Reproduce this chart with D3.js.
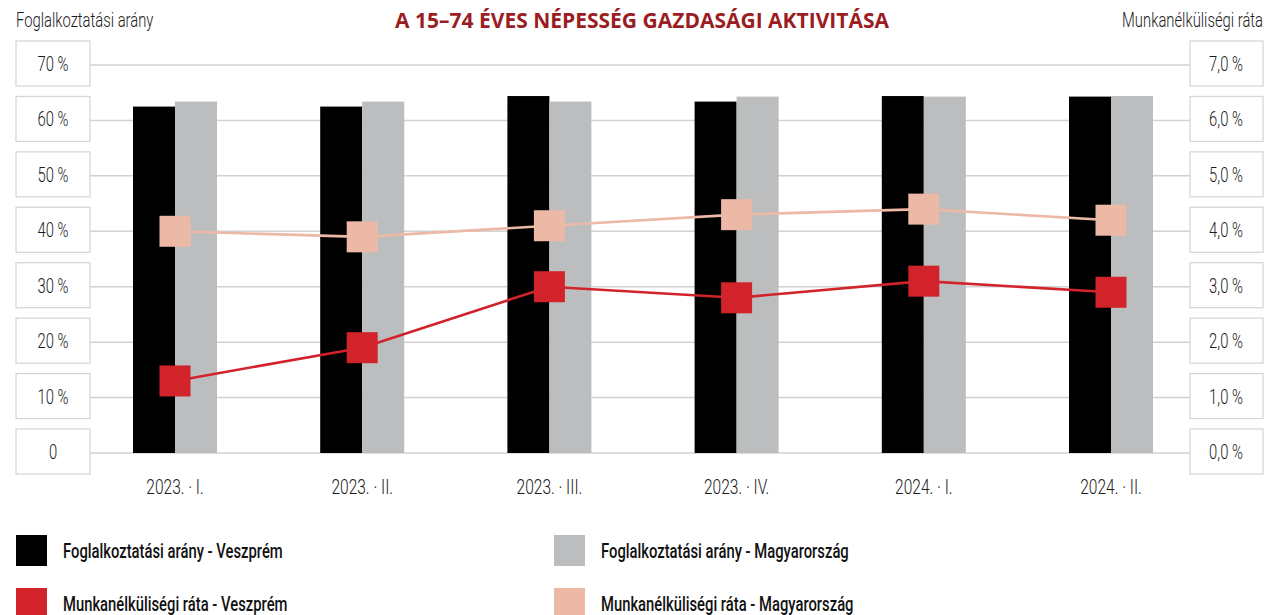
<!DOCTYPE html>
<html>
<head>
<meta charset="utf-8">
<script src="https://cdn.jsdelivr.net/npm/d3@7/dist/d3.min.js"></script>
<style>
    body { margin: 0; background: #fff; }
    .lbl { font-family: Roboto, sans-serif; font-weight: 300; fill: #1a1a1a; }
    .title { font-family: 'Open Sans', sans-serif; font-weight: 700; fill: #9b1d23; }
</style>
</head>
<body>
<script>
//chart data
var quarters = ["2023. · I.", "2023. · II.", "2023. · III.", "2023. · IV.", "2024. · I.", "2024. · II."];
var empVeszprem = [62.5, 62.5, 64.4, 63.4, 64.4, 64.3];
var empHungary = [63.4, 63.4, 63.4, 64.3, 64.3, 64.4];
var unempVeszprem = [1.3, 1.9, 3.0, 2.8, 3.1, 2.9];
var unempHungary = [4.0, 3.9, 4.1, 4.3, 4.4, 4.2];
var leftTicks = [0, 10, 20, 30, 40, 50, 60, 70];
var rightTicks = [0, 1, 2, 3, 4, 5, 6, 7];
var legendItems = [
    {name: "Foglalkoztatási arány - Veszprém", color: "#000000"},
    {name: "Foglalkoztatási arány - Magyarország", color: "#bcbdbf"},
    {name: "Munkanélküliségi ráta - Veszprém", color: "#d2232a"},
    {name: "Munkanélküliségi ráta - Magyarország", color: "#edb9a7"}
];

var squeeze = 0.74; //condensed look for the label font

window.onload = drawChart();

//text squeezed horizontally, positioned at (x, y)
function narrowText(parent, x, y, size, anchor){
    return parent.append("g")
        .attr("transform", function(d){
            var xx = typeof x === "function" ? x(d) : x;
            var yy = typeof y === "function" ? y(d) : y;
            return "translate(" + xx + "," + yy + ") scale(" + squeeze + ",1)";
        })
        .append("text")
        .attr("class", "lbl")
        .attr("text-anchor", anchor || "start")
        .style("font-size", size + "px");
}

function drawChart(){

    var width = 1269,
        height = 615;

    var svg = d3.select("body")
        .append("svg")
        .attr("width", width)
        .attr("height", height);

    //scales: left for employment %, right for unemployment %
    var yLeft = d3.scaleLinear().domain([0, 70]).range([453, 65]);
    var yRight = d3.scaleLinear().domain([0, 7]).range([453, 65]);
    var x = d3.scalePoint().domain(quarters).range([175, 1111]);
    var barW = 42;

    //gridlines
    svg.selectAll(".grid")
        .data(leftTicks)
        .enter()
        .append("line")
        .attr("x1", 90)
        .attr("x2", 1190)
        .attr("y1", function(d){ return yLeft(d); })
        .attr("y2", function(d){ return yLeft(d); })
        .attr("stroke", "#d2d2d2")
        .attr("stroke-width", 1.5);

    //left axis boxes
    var lg = svg.selectAll(".lbox")
        .data(leftTicks)
        .enter()
        .append("g")
        .attr("transform", function(d){ return "translate(16," + (yLeft(d) - 24) + ")"; });
    lg.append("rect")
        .attr("width", 74).attr("height", 45)
        .attr("fill", "#fff").attr("stroke", "#d4d4d4").attr("stroke-width", 1.2);
    narrowText(lg, 37, 30, 20, "middle")
        .text(function(d){ return d === 0 ? "0" : d + " %"; });

    //right axis boxes
    var rg = svg.selectAll(".rbox")
        .data(rightTicks)
        .enter()
        .append("g")
        .attr("transform", function(d){ return "translate(1190," + (yRight(d) - 24) + ")"; });
    rg.append("rect")
        .attr("width", 73).attr("height", 45)
        .attr("fill", "#fff").attr("stroke", "#d4d4d4").attr("stroke-width", 1.2);
    narrowText(rg, 36, 30, 20, "middle")
        .text(function(d){ return d3.format(".1f")(d).replace(".", ",") + " %"; });

    //bars
    svg.selectAll(".barV")
        .data(empVeszprem)
        .enter()
        .append("rect")
        .attr("x", function(d, i){ return x(quarters[i]) - barW; })
        .attr("y", function(d){ return yLeft(d); })
        .attr("width", barW)
        .attr("height", function(d){ return yLeft(0) - yLeft(d); })
        .attr("fill", legendItems[0].color);

    svg.selectAll(".barH")
        .data(empHungary)
        .enter()
        .append("rect")
        .attr("x", function(d, i){ return x(quarters[i]); })
        .attr("y", function(d){ return yLeft(d); })
        .attr("width", barW)
        .attr("height", function(d){ return yLeft(0) - yLeft(d); })
        .attr("fill", legendItems[1].color);

    //lines with square markers
    var line = d3.line()
        .x(function(d, i){ return x(quarters[i]); })
        .y(function(d){ return yRight(d); });

    [[unempHungary, legendItems[3].color], [unempVeszprem, legendItems[2].color]].forEach(function(s){
        svg.append("path")
            .datum(s[0])
            .attr("d", line)
            .attr("fill", "none")
            .attr("stroke", s[1])
            .attr("stroke-width", 2.6);
        svg.selectAll(null)
            .data(s[0])
            .enter()
            .append("rect")
            .attr("x", function(d, i){ return x(quarters[i]) - 15.5; })
            .attr("y", function(d){ return yRight(d) - 15.5; })
            .attr("width", 31)
            .attr("height", 31)
            .attr("fill", s[1]);
    });

    //x labels
    var xg = svg.selectAll(".xl")
        .data(quarters)
        .enter()
        .append("g");
    narrowText(xg, function(d){ return x(d); }, 494, 21, "middle")
        .text(function(d){ return d; });

    //titles
    svg.append("text")
        .attr("class", "title")
        .attr("x", 642).attr("y", 28)
        .attr("text-anchor", "middle")
        .style("font-size", "21px")
        .text("A 15–74 ÉVES NÉPESSÉG GAZDASÁGI AKTIVITÁSA");

    narrowText(svg, 16, 27, 20, "start")
        .text("Foglalkoztatási arány");

    narrowText(svg, 1263, 27, 20, "end")
        .text("Munkanélküliségi ráta");

    //legend
    var leg = svg.selectAll(".leg")
        .data(legendItems)
        .enter()
        .append("g")
        .attr("transform", function(d, i){ return "translate(" + (i % 2 ? 554 : 16) + "," + (535 + Math.floor(i / 2) * 53) + ")"; });
    leg.append("rect")
        .attr("width", 31).attr("height", 31)
        .attr("fill", function(d){ return d.color; });
    narrowText(leg, 47, 23, 20, "start")
        .style("font-weight", "500")
        .style("fill", "#111")
        .text(function(d){ return d.name; });
};
</script>
</body>
</html>
